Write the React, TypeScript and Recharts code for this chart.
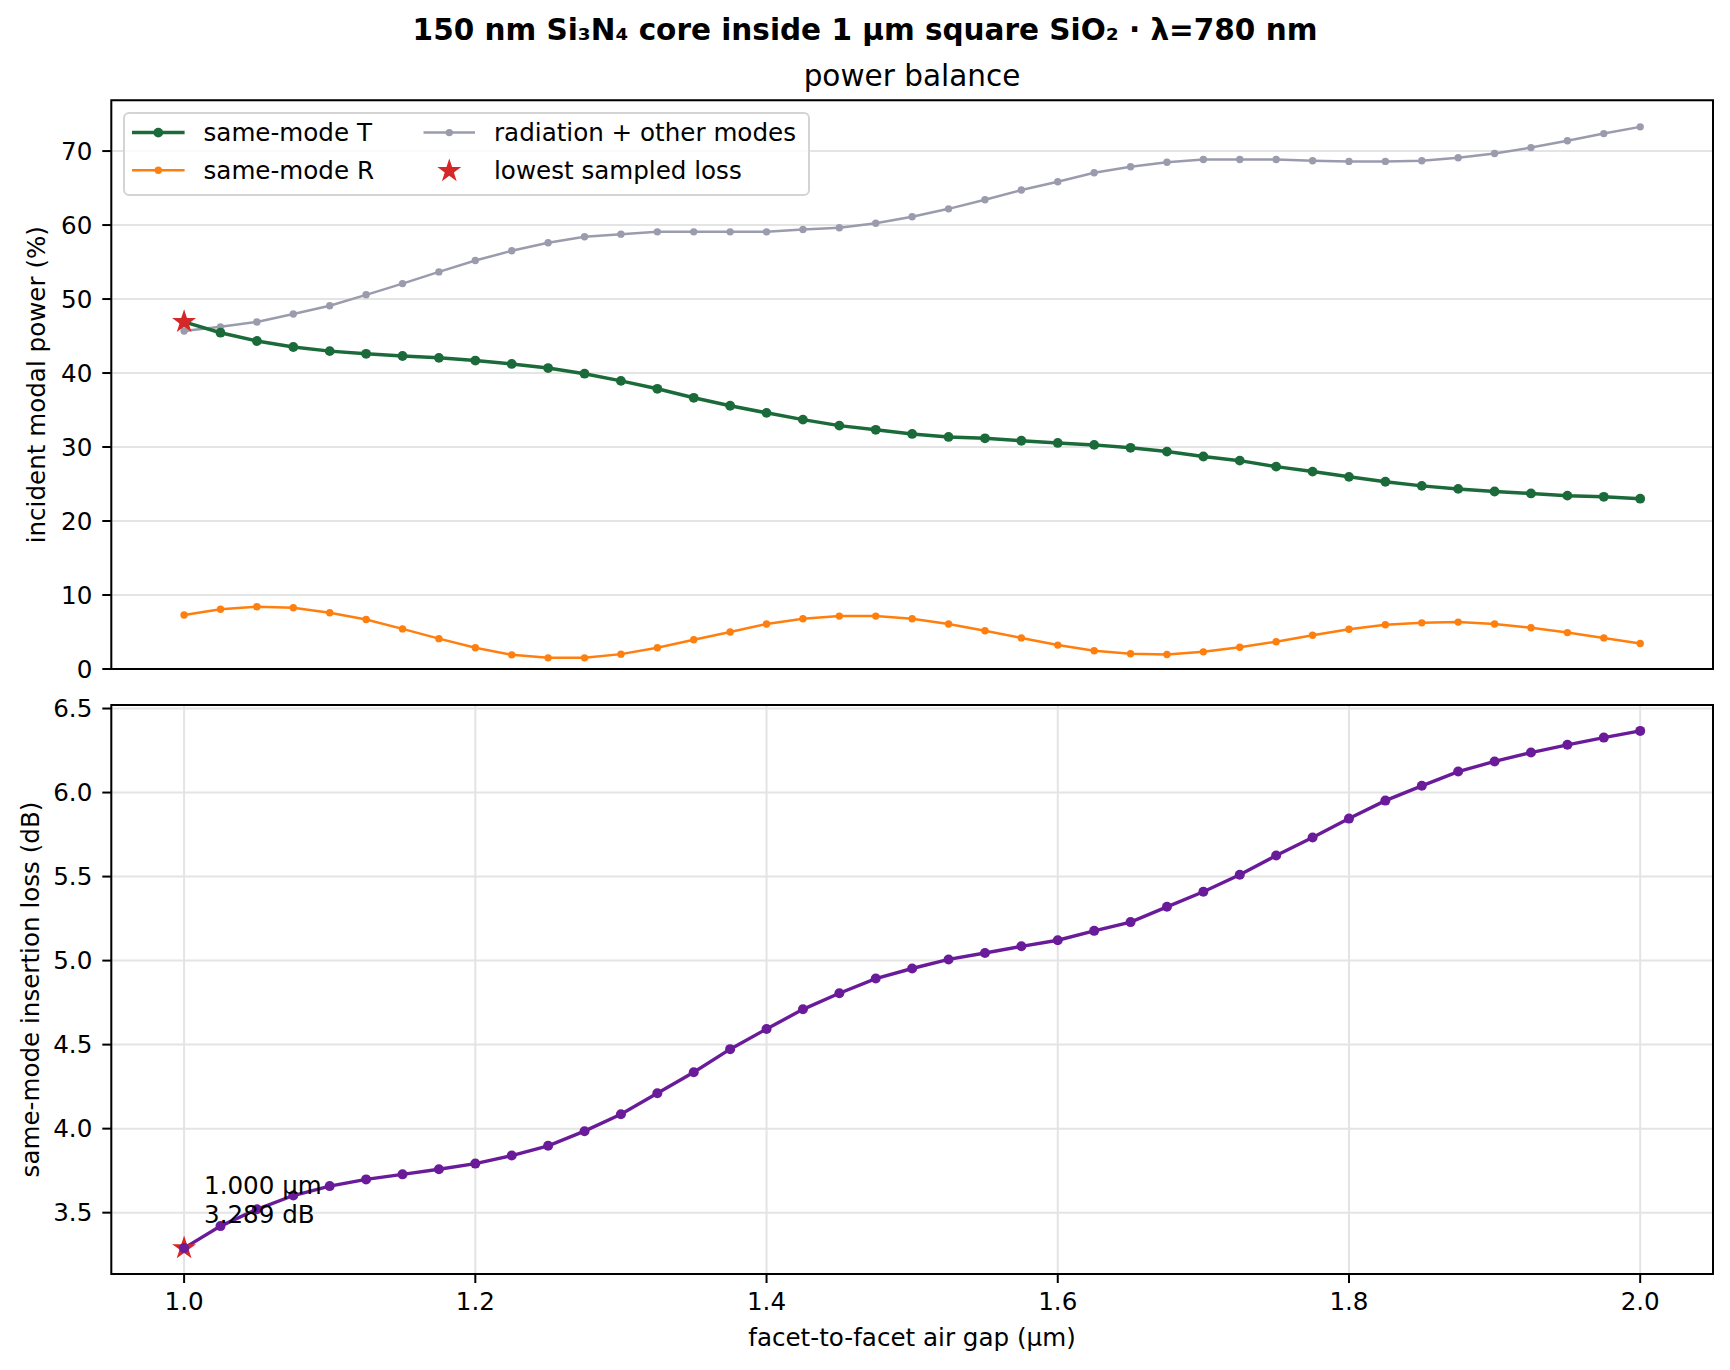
import {
  CartesianGrid,
  ComposedChart,
  Line,
  ReferenceArea,
  Scatter,
  XAxis,
  YAxis,
} from "recharts";

// facet-to-facet air gap (µm), one sample every 25 nm
const GAP_UM = [
  1.0, 1.025, 1.05, 1.075, 1.1, 1.125, 1.15, 1.175, 1.2, 1.225, 1.25, 1.275,
  1.3, 1.325, 1.35, 1.375, 1.4, 1.425, 1.45, 1.475, 1.5, 1.525, 1.55, 1.575,
  1.6, 1.625, 1.65, 1.675, 1.7, 1.725, 1.75, 1.775, 1.8, 1.825, 1.85, 1.875,
  1.9, 1.925, 1.95, 1.975, 2.0,
];

// % of incident modal power
const SAME_MODE_T = [
  46.91, 45.45, 44.33, 43.52, 42.96, 42.6, 42.3, 42.05, 41.69, 41.23, 40.67,
  39.91, 38.94, 37.87, 36.65, 35.58, 34.62, 33.7, 32.89, 32.33, 31.77, 31.36,
  31.18, 30.85, 30.55, 30.29, 29.89, 29.38, 28.72, 28.16, 27.35, 26.68, 25.97,
  25.31, 24.75, 24.34, 23.99, 23.73, 23.43, 23.27, 23.02,
];
const SAME_MODE_R = [
  7.3, 8.07, 8.42, 8.27, 7.61, 6.7, 5.42, 4.1, 2.88, 1.91, 1.51, 1.51, 2.01,
  2.88, 3.95, 5.01, 6.08, 6.8, 7.15, 7.15, 6.8, 6.08, 5.17, 4.2, 3.23, 2.47,
  2.06, 1.96, 2.32, 2.93, 3.69, 4.56, 5.37, 5.98, 6.24, 6.34, 6.09, 5.58, 4.92,
  4.2, 3.44,
];
const RADIATION = [
  45.68, 46.24, 46.9, 47.97, 49.09, 50.57, 52.09, 53.67, 55.2, 56.52, 57.6,
  58.41, 58.77, 59.08, 59.08, 59.08, 59.08, 59.39, 59.64, 60.25, 61.12, 62.19,
  63.41, 64.73, 65.85, 67.07, 67.88, 68.49, 68.85, 68.85, 68.85, 68.7, 68.6,
  68.6, 68.7, 69.1, 69.66, 70.47, 71.39, 72.36, 73.27,
];

// same-mode insertion loss (dB)
const LOSS_DB = [
  3.289, 3.42, 3.52, 3.602, 3.658, 3.698, 3.728, 3.758, 3.792, 3.84, 3.898,
  3.985, 4.086, 4.211, 4.336, 4.473, 4.593, 4.71, 4.806, 4.893, 4.953, 5.007,
  5.045, 5.085, 5.121, 5.177, 5.229, 5.32, 5.41, 5.511, 5.625, 5.732, 5.845,
  5.952, 6.04, 6.125, 6.185, 6.238, 6.284, 6.327, 6.367,
];

const X_TICKS = [1.0, 1.2, 1.4, 1.6, 1.8, 2.0];
const POWER_TICKS = [0, 10, 20, 30, 40, 50, 60, 70];
const LOSS_TICKS = [3.5, 4.0, 4.5, 5.0, 5.5, 6.0, 6.5];

const X_DOMAIN: [number, number] = [0.95, 2.05];
const POWER_DOMAIN: [number, number] = [0, 76.86];
const LOSS_DOMAIN: [number, number] = [3.135, 6.521];

const GREEN = "#1b6a3a";
const ORANGE = "#ff7f0e";
const GRAY = "#9a9cad";
const PURPLE = "#6a1b9a";
const RED = "#d62728";

const FONT = "'DejaVu Sans', 'Liberation Sans', sans-serif";
const FS = 24.6;

const rows = GAP_UM.map((gap, i) => ({
  gap,
  T: SAME_MODE_T[i],
  R: SAME_MODE_R[i],
  rad: RADIATION[i],
  loss: LOSS_DB[i],
}));

const best = LOSS_DB.indexOf(Math.min(...LOSS_DB));
const bestPower = [{ gap: GAP_UM[best], T: SAME_MODE_T[best] }];
const bestLoss = [{ gap: GAP_UM[best], loss: LOSS_DB[best] }];

function starPoints(cx: number, cy: number, R = 12.6, r = 4.8) {
  const pts: string[] = [];
  for (let k = 0; k < 10; k++) {
    const a = -Math.PI / 2 + (k * Math.PI) / 5;
    const d = k % 2 === 0 ? R : r;
    pts.push(`${cx + d * Math.cos(a)},${cy + d * Math.sin(a)}`);
  }
  return pts.join(" ");
}

const StarShape = (props: any) => (
  <polygon points={starPoints(props.cx, props.cy)} fill={RED} />
);

const tickStyle = { fontSize: FS, fill: "#000", fontFamily: FONT };
const tickLine = { stroke: "#000", strokeWidth: 2 };

export default function App() {
  return (
    <div
      style={{
        position: "relative",
        width: 1730,
        height: 1370,
        background: "#fff",
        fontFamily: FONT,
      }}
    >
      <style>{"body{margin:0}"}</style>

      {/* power balance */}
      <div style={{ position: "absolute", left: 0, top: 0 }}>
        <ComposedChart
          width={1730}
          height={700}
          data={rows}
          margin={{ top: 100.3, right: 17, bottom: 0, left: 0 }}
        >
          <CartesianGrid stroke="#e4e4e4" strokeWidth={2} />
          <XAxis
            dataKey="gap"
            type="number"
            domain={X_DOMAIN}
            ticks={X_TICKS}
            height={31}
            axisLine={false}
            tick={false}
            tickLine={tickLine}
            tickSize={9}
          />
          <YAxis
            type="number"
            domain={POWER_DOMAIN}
            ticks={POWER_TICKS}
            width={111.3}
            axisLine={false}
            tick={tickStyle}
            tickLine={tickLine}
            tickSize={9}
            tickMargin={10}
          />
          <ReferenceArea
            x1={X_DOMAIN[0]}
            x2={X_DOMAIN[1]}
            y1={POWER_DOMAIN[0]}
            y2={POWER_DOMAIN[1]}
            fill="none"
            fillOpacity={0}
            stroke="#000"
            strokeWidth={2}
            ifOverflow="visible"
          />
          <Line
            dataKey="rad"
            type="linear"
            stroke={GRAY}
            strokeWidth={2.5}
            dot={{ r: 3.7, fill: GRAY, stroke: GRAY, strokeWidth: 0 }}
            isAnimationActive={false}
          />
          <Line
            dataKey="R"
            type="linear"
            stroke={ORANGE}
            strokeWidth={2.5}
            dot={{ r: 3.7, fill: ORANGE, stroke: ORANGE, strokeWidth: 0 }}
            isAnimationActive={false}
          />
          <Line
            dataKey="T"
            type="linear"
            stroke={GREEN}
            strokeWidth={3.5}
            dot={{ r: 4.9, fill: GREEN, stroke: GREEN, strokeWidth: 0 }}
            isAnimationActive={false}
          />
          <Scatter
            data={bestPower}
            dataKey="T"
            shape={StarShape}
            isAnimationActive={false}
          />
        </ComposedChart>
      </div>

      {/* insertion loss */}
      <div style={{ position: "absolute", left: 0, top: 690 }}>
        <ComposedChart
          width={1730}
          height={680}
          data={rows}
          margin={{ top: 15, right: 17, bottom: 0, left: 0 }}
        >
          <CartesianGrid stroke="#e4e4e4" strokeWidth={2} />
          <XAxis
            dataKey="gap"
            type="number"
            domain={X_DOMAIN}
            ticks={X_TICKS}
            height={96}
            axisLine={false}
            tick={tickStyle}
            tickLine={tickLine}
            tickSize={9}
            tickMargin={10}
            tickFormatter={(v: number) => v.toFixed(1)}
          />
          <YAxis
            type="number"
            domain={LOSS_DOMAIN}
            ticks={LOSS_TICKS}
            width={111.3}
            axisLine={false}
            tick={tickStyle}
            tickLine={tickLine}
            tickSize={9}
            tickMargin={10}
            tickFormatter={(v: number) => v.toFixed(1)}
          />
          <ReferenceArea
            x1={X_DOMAIN[0]}
            x2={X_DOMAIN[1]}
            y1={LOSS_DOMAIN[0]}
            y2={LOSS_DOMAIN[1]}
            fill="none"
            fillOpacity={0}
            stroke="#000"
            strokeWidth={2}
            ifOverflow="visible"
          />
          <Scatter
            data={bestLoss}
            dataKey="loss"
            shape={StarShape}
            isAnimationActive={false}
          />
          <Line
            dataKey="loss"
            type="linear"
            stroke={PURPLE}
            strokeWidth={3.4}
            dot={{ r: 5, fill: PURPLE, stroke: PURPLE, strokeWidth: 0 }}
            isAnimationActive={false}
          />
        </ComposedChart>
      </div>

      {/* titles, axis labels, legend, annotation */}
      <svg
        width={1730}
        height={1370}
        style={{ position: "absolute", left: 0, top: 0, pointerEvents: "none" }}
        fontFamily={FONT}
        fontSize={FS}
      >
        <text x={865} y={40} textAnchor="middle" fontSize={29.5} fontWeight="bold">
          150 nm Si₃N₄ core inside 1 µm square SiO₂ · λ=780 nm
        </text>
        <text x={912} y={85.5} textAnchor="middle" fontSize={29.5}>
          power balance
        </text>
        <text x={912} y={1346} textAnchor="middle">
          facet-to-facet air gap (µm)
        </text>
        <text x={45} y={384.7} textAnchor="middle" transform="rotate(-90 45 384.7)">
          incident modal power (%)
        </text>
        <text x={38.5} y={989.5} textAnchor="middle" transform="rotate(-90 38.5 989.5)">
          same-mode insertion loss (dB)
        </text>

        {/* legend */}
        <rect
          x={124}
          y={113}
          width={685}
          height={82}
          rx={5}
          fill="rgba(255,255,255,0.8)"
          stroke="#d4d4d4"
          strokeWidth={2}
        />
        <line x1={132} x2={184.6} y1={132.6} y2={132.6} stroke={GREEN} strokeWidth={3.5} />
        <circle cx={158.3} cy={132.6} r={4.9} fill={GREEN} />
        <text x={203.5} y={141.3}>same-mode T</text>
        <line x1={132} x2={184.6} y1={170.2} y2={170.2} stroke={ORANGE} strokeWidth={2.5} />
        <circle cx={158.3} cy={170.2} r={3.7} fill={ORANGE} />
        <text x={203.5} y={178.9}>same-mode R</text>
        <line x1={423.5} x2={475} y1={132.6} y2={132.6} stroke={GRAY} strokeWidth={2.5} />
        <circle cx={449.3} cy={132.6} r={3.7} fill={GRAY} />
        <text x={494} y={141.3}>radiation + other modes</text>
        <polygon points={starPoints(449.3, 171)} fill={RED} />
        <text x={494} y={178.9}>lowest sampled loss</text>

        {/* best-point annotation */}
        <text x={204} y={1193.5}>{`${GAP_UM[best].toFixed(3)} µm`}</text>
        <text x={204} y={1223}>{`${LOSS_DB[best].toFixed(3)} dB`}</text>
      </svg>
    </div>
  );
}
